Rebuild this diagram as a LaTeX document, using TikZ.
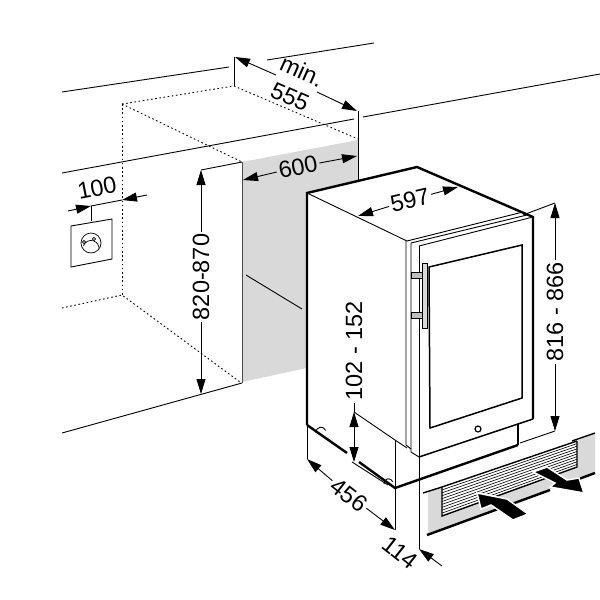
\documentclass[tikz,border=0pt]{standalone}
\usepackage{fontspec}
\setmainfont{Liberation Sans}
\usetikzlibrary{arrows.meta, calc}

\tikzset{
    dim/.style={line width=0.9pt, {Triangle[length=15pt,width=9pt]}-},
    dimtext/.style={font=\fontsize{23.5}{25}\selectfont, inner sep=2pt},
    thin line/.style={line width=0.9pt},
    heavy/.style={line width=2.4pt},
    dots/.style={line width=0.9pt, dash pattern=on 1.6pt off 2.6pt}
}

\begin{document}
\begin{tikzpicture}[x=1pt, y=-1pt]
        \useasboundingbox (0,0) rectangle (600,600);

        % room
        \fill[black!15] (242,162) -- (358,140) -- (358,190) -- (307,200) -- (307,368) -- (242,382) -- cycle;
        \draw[thin line] (62,92) -- (229,67);
        \draw[thin line] (267,60) -- (374,43);
        \draw[thin line] (62,173) -- (354,119);
        \draw[thin line] (363,117) -- (600,74);
        \draw[thin line] (62,433) -- (242,383);
        \draw[thin line, black!70] (242,162) -- (242,383);
        \draw[thin line] (246,275) -- (302,309);
        \draw[thin line] (234,57) -- (234,86);
        \draw[thin line] (358,111) -- (358,190);
        \draw[dots] (122,104) -- (234,86) -- (358,139);
        \draw[dots] (122,104) -- (242,162);
        \draw[dots] (122,104) -- (122,295);
        \draw[dots] (62,308) -- (122,295) -- (240,382);

        % socket
        \draw[thin line] (71,226) -- (112,219) -- (112,259) -- (71,267) -- cycle;
        \draw[line width=0.7pt] (91,243) circle (10);
        \draw[line width=0.7pt] (83.5,245.7) arc (200:370:8);
        \draw[line width=0.6pt] (84,242) circle (1.6);
        \draw[line width=0.6pt] (94,239) circle (1.6);
        \draw[thin line] (91,206) -- (91,221);

        % fridge body
        \fill[white] (307,193) -- (417,167) -- (533,217) -- (533,419) -- (518,424) -- (518,445) -- (395,488) -- (307,425) -- cycle;
        \draw[thin line] (307,193) -- (407,241);
        \draw[heavy] (307,425) -- (307,193) -- (417,167) -- (533,217) -- (533,419);
        \draw[thin line] (407,241) -- (523,212);
        \draw[thin line] (411,243) -- (527,215);
        \draw[thin line] (419,246) -- (533,217);
        \draw[thin line] (406,241) -- (406,445) -- (411,449);
        \draw[thin line] (411,243) -- (411,452) -- (419,457);
        \draw[thin line] (419,246) -- (419,549);
        \draw[line width=1.5pt] (419,457) -- (533,419);
        \draw[line width=1.5pt] (429,267) -- (522,245) -- (522,398) -- (430,428) -- cycle;
        \draw[line width=1.2pt] (478,429) circle (3);
        \draw[line width=1.2pt] (518,424) -- (518,445);

        % handle
        \draw[line width=0.6pt, fill=black!25] (411,272) -- (422,272) -- (422,278) -- (411,278) -- cycle;
        \draw[line width=0.6pt, fill=black!25] (411,312) -- (422,312) -- (422,318) -- (411,318) -- cycle;
        \draw[thin line, fill=black!15] (422,263) rectangle (427,328);

        % plinth
        \draw[thin line] (354,412) -- (395,440) -- (407,448);
        \draw[thin line] (395,440) -- (395,530);
        \draw[thin line] (307,425) -- (307,459);
        \draw[heavy] (307,425) -- (347,453);
        \draw[heavy] (359,462) -- (395,488) -- (518,445);
        \draw[thin line] (352,462) -- (388,485);
        \draw[thin line] (316,433) arc (170:340:5);
        \draw[thin line] (384,484) arc (170:340:4.5);

        % vent
        \coordinate (ventTL) at (442,487);
        \coordinate (ventTR) at (577,441);
        \coordinate (ventBL) at (442,516);
        \coordinate (ventBR) at (577,467);
        \fill[black!15] (428,492) -- (ventTL) -- (ventBL) -- (ventBR) -- (ventTR) -- (595,433) -- (595,473) -- (428,534) -- cycle;
        \fill[white] (ventTL) -- (ventTR) -- (ventBR) -- (ventBL) -- cycle;
        \foreach \i in {1,...,9}
            \draw[line width=0.6pt] ($(ventTL)!\i/10!(ventBL)$) -- ($(ventTR)!\i/10!(ventBR)$);
        \draw[line width=1.4pt] (ventTR) -- (ventBR) -- (ventBL) -- (ventTL) -- (ventTR);
        \draw[line width=1.4pt] (423,493) -- (ventTL);
        \draw[line width=1.4pt] (572,441) -- (595,433);
        \draw[heavy] (427,535) -- (550,490);
        \draw[heavy] (568,483) -- (595,473);
        \fill[black, draw=white, line width=1.5pt] (477,493) -- (507,499) -- (528,514) -- (513,520) -- (491,505) -- (481,509) -- cycle;
        \fill[black, draw=white, line width=1.5pt] (533,472) -- (547,467) -- (567,480) -- (579,478) -- (584,493) -- (550,487) -- (555,483) -- cycle;

        % labels
        \node[dimtext, rotate=-24] (minlabel) at (302,71) {min.};
        \node[dimtext, rotate=-24] (depthlabel) at (290,97) {555};
        \node[dimtext, rotate=11] (widthlabel) at (298,167) {600};
        \node[dimtext, rotate=90] (heightlabel) at (201,277) {820-870};
        \node[dimtext, rotate=11] (socketlabel) at (97,188) {100};
        \node[dimtext, rotate=13] (fridgelabel) at (410,200) {597};
        \node[dimtext, rotate=90] (fridgeheight) at (555,312) {816 - 866};
        \node[dimtext, rotate=90] (plinthlabel) at (354,351) {102 - 152};
        \node[dimtext, rotate=-38] (bodydepth) at (349,495) {456};
        \node[dimtext, rotate=-38] (doordepth) at (400,553) {114};

        % dimension arrows
        \coordinate (a1) at (235,57);
        \coordinate (a2) at (357,111);
        \draw[dim] (a1) -- (276,75);
        \draw[dim] (a2) -- (317,92);

        \coordinate (b1) at (243,180);
        \coordinate (b2) at (357,156);
        \draw[dim] (b1) -- (widthlabel);
        \draw[dim] (b2) -- (widthlabel);

        \coordinate (c1) at (201,170);
        \coordinate (c2) at (201,394);
        \draw[dim] (c1) -- (heightlabel);
        \draw[dim] (c2) -- (heightlabel);
        \draw[thin line] (c1) -- (242,162);

        \coordinate (d1) at (91,206);
        \coordinate (d2) at (122,200);
        \draw[dim] (d1) -- (68,211);
        \draw[dim] (d2) -- (147,195);
        \draw[thin line] (d1) -- (d2);

        \coordinate (e1) at (358,216);
        \coordinate (e2) at (458,187);
        \draw[dim] (e1) -- (fridgelabel);
        \draw[dim] (e2) -- (fridgelabel);

        \coordinate (f1) at (555,203);
        \coordinate (f2) at (555,431);
        \draw[dim] (f1) -- (fridgeheight);
        \draw[dim] (f2) -- (fridgeheight);
        \draw[thin line] (f1) -- (523,215);
        \draw[thin line] (f2) -- (520,443);

        \coordinate (g1) at (354,412);
        \coordinate (g2) at (354,462);
        \draw[dim, {Triangle[length=15pt,width=9pt]}-{Triangle[length=15pt,width=9pt]}] (g1) -- (g2);
        \draw[thin line] (g1) -- (plinthlabel);

        \coordinate (h1) at (307,459);
        \coordinate (h2) at (395,530);
        \draw[dim] (h1) -- (bodydepth);
        \draw[dim] (h2) -- (bodydepth);

        \coordinate (i1) at (419,549);
        \draw[dim] (i1) -- (442,566);
    \end{tikzpicture}
\end{document}
